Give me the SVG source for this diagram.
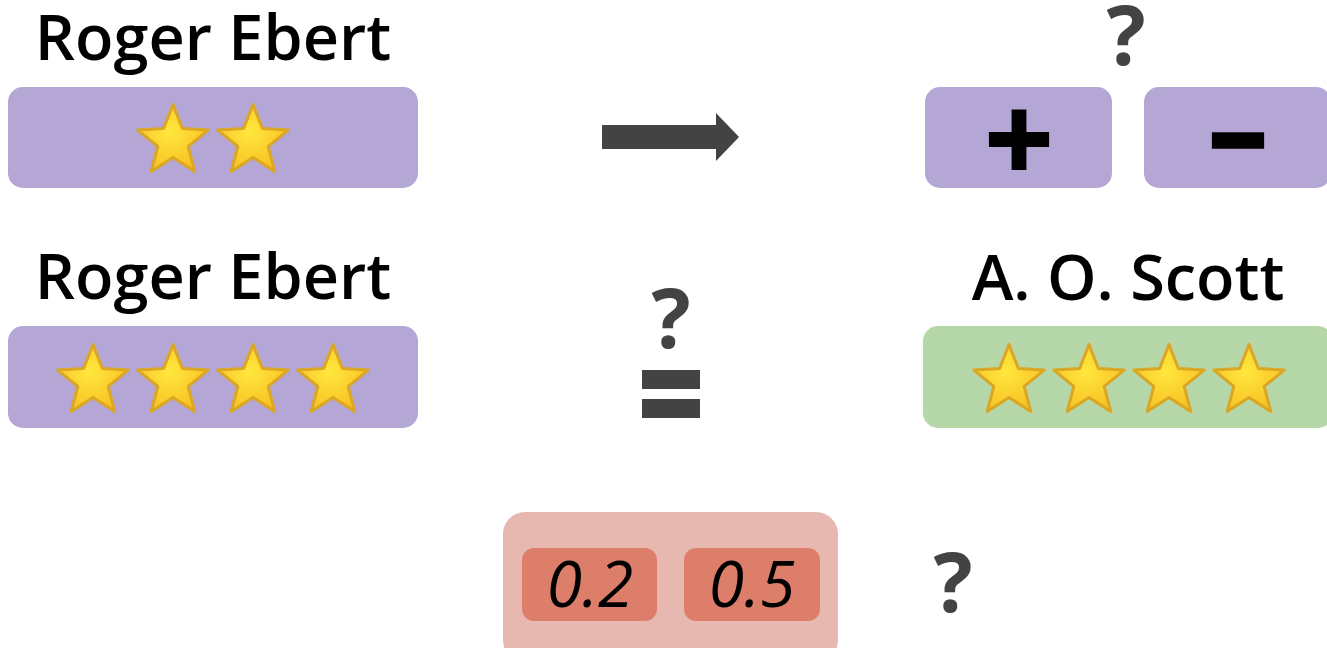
<svg xmlns="http://www.w3.org/2000/svg" xmlns:xlink="http://www.w3.org/1999/xlink" width="1327" height="648" viewBox="0 0 1327 648">
<defs>
<style>
.purple{fill:#b4a7d6}
.green{fill:#b6d7a8}
.outer{fill:#e6b8af}
.inner{fill:#dd7e6b}
.name{font-family:"Open Sans","Liberation Sans",sans-serif;font-weight:600;font-size:63px;fill:#000;text-anchor:middle}
.q{font-family:"Open Sans","Liberation Sans",sans-serif;font-weight:700;font-size:82px;fill:#434343;text-anchor:middle}
.num{font-family:"Open Sans","Liberation Sans",sans-serif;font-style:italic;font-size:64px;fill:#000;text-anchor:middle}
.sym{font-family:"Open Sans","Liberation Sans",sans-serif;font-weight:700;fill:#000;stroke:#000;text-anchor:middle}
.dark{fill:#434343}
</style>
<radialGradient id="sg" cx="0.45" cy="0.4" r="0.65">
<stop offset="0" stop-color="#ffe83d"/>
<stop offset="1" stop-color="#f7bd22"/>
</radialGradient>
<path id="star" d="M0,-37 L9.4,-12.94 L35.19,-11.43 L15.22,4.94 L21.75,29.93 L0,16 L-21.75,29.93 L-15.22,4.94 L-35.19,-11.43 L-9.4,-12.94 Z" fill="url(#sg)" stroke="#dba623" stroke-width="3" stroke-linejoin="round"/>
</defs>

<g id="ebert1">
<text class="name" x="213" y="60">Roger Ebert</text>
<rect class="purple" x="8" y="87" width="410" height="101" rx="15"/>
<use xlink:href="#star" x="173" y="141.5"/>
<use xlink:href="#star" x="253" y="141.5"/>
</g>

<g id="plus">
<rect class="purple" x="925" y="87" width="187" height="101" rx="15"/>
<text class="sym" x="1019" y="182" font-size="120" stroke-width="2">+</text>
</g>

<g id="minus">
<rect class="purple" x="1144" y="87" width="187" height="101" rx="15"/>
<text class="sym" x="1238" y="172" font-size="116" stroke-width="3.5">–</text>
</g>

<g id="q-top">
<text class="q" x="1126" y="65">?</text>
</g>

<g id="ebert2">
<text class="name" x="213" y="299">Roger Ebert</text>
<rect class="purple" x="8" y="326" width="410" height="102" rx="15"/>
<use xlink:href="#star" x="93" y="381.5"/>
<use xlink:href="#star" x="173" y="381.5"/>
<use xlink:href="#star" x="253" y="381.5"/>
<use xlink:href="#star" x="333" y="381.5"/>
</g>

<g id="scott">
<text class="name" x="1128" y="300">A. O. Scott</text>
<rect class="green" x="923" y="326" width="410" height="102" rx="15"/>
<use xlink:href="#star" x="1009" y="381.5"/>
<use xlink:href="#star" x="1089" y="381.5"/>
<use xlink:href="#star" x="1169" y="381.5"/>
<use xlink:href="#star" x="1249" y="381.5"/>
</g>

<g id="q-mid">
<text class="q" x="671" y="348">?</text>
</g>

<g id="numbers">
<rect class="outer" x="503" y="512" width="335" height="150" rx="22"/>
<rect class="inner" x="522" y="548" width="135" height="73" rx="12"/>
<rect class="inner" x="684" y="548" width="136" height="73" rx="12"/>
<text class="num" x="590" y="607">0.2</text>
<text class="num" x="752" y="607">0.5</text>
</g>

<g id="q-bot">
<text class="q" x="953" y="612">?</text>
</g>

<g id="connectors">
<polygon class="dark" points="602,125 716,125 716,113 739,137 716,161 716,149 602,149"/>
<rect class="dark" x="642" y="370" width="58" height="19"/>
<rect class="dark" x="642" y="399" width="58" height="19"/>
</g>
</svg>
